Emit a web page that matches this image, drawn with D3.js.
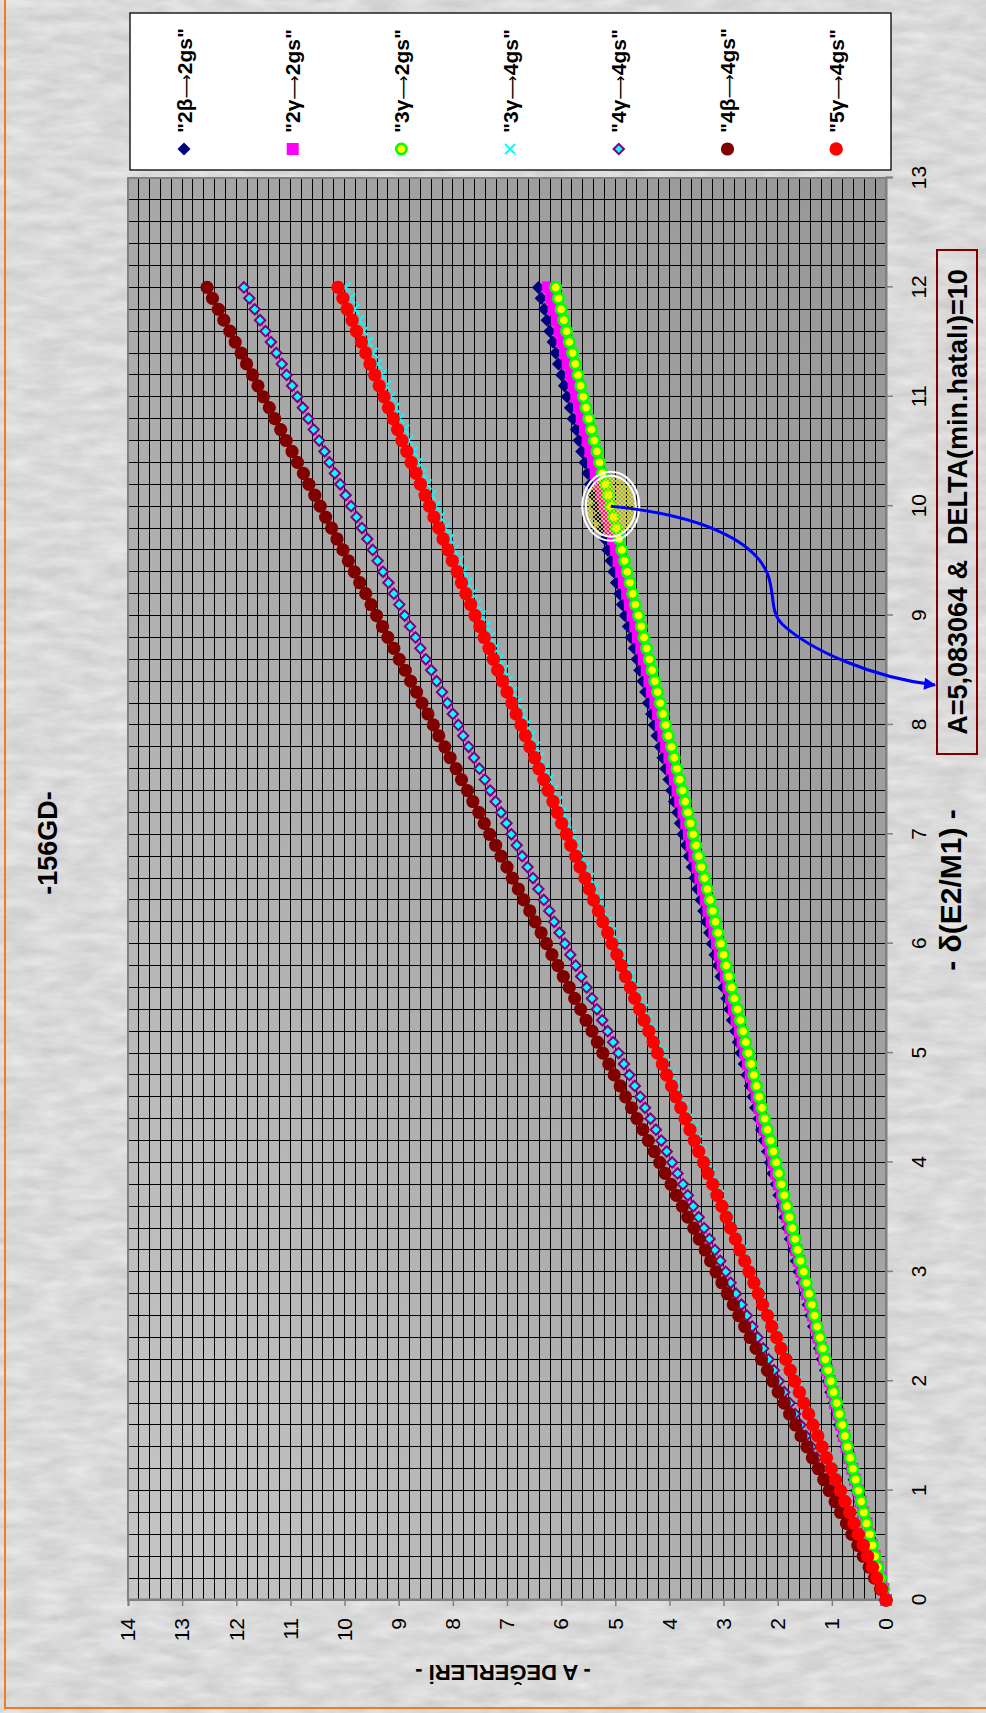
<!DOCTYPE html>
<html>
<head>
<meta charset="utf-8">
<script src="https://cdn.jsdelivr.net/npm/d3@7"></script>
<style>
  body { margin: 0; background: #d9d9d9; }
  svg { display: block; }
  text { font-family: "Liberation Sans", Arial, sans-serif; }
</style>
</head>
<body>
<svg id="chart" width="986" height="1713"></svg>
<script>
// ---- data ----
var delta = [0,0.1,0.2,0.3,0.4,0.5,0.6,0.7,0.8,0.9,1,1.1,1.2,1.3,1.4,1.5,1.6,1.7,1.8,1.9,2,2.1,2.2,2.3,2.4,2.5,2.6,2.7,2.8,2.9,3,3.1,3.2,3.3,3.4,3.5,3.6,3.7,3.8,3.9,4,4.1,4.2,4.3,4.4,4.5,4.6,4.7,4.8,4.9,5,5.1,5.2,5.3,5.4,5.5,5.6,5.7,5.8,5.9,6,6.1,6.2,6.3,6.4,6.5,6.6,6.7,6.8,6.9,7,7.1,7.2,7.3,7.4,7.5,7.6,7.7,7.8,7.9,8,8.1,8.2,8.3,8.4,8.5,8.6,8.7,8.8,8.9,9,9.1,9.2,9.3,9.4,9.5,9.6,9.7,9.8,9.9,10,10.1,10.2,10.3,10.4,10.5,10.6,10.7,10.8,10.9,11,11.1,11.2,11.3,11.4,11.5,11.6,11.7,11.8,11.9,12];

var a2b2 = [0,0.05,0.11,0.16,0.21,0.27,0.32,0.37,0.43,0.48,
  0.54,0.59,0.64,0.70,0.75,0.80,0.86,0.91,0.96,1.02,
  1.07,1.12,1.18,1.23,1.28,1.34,1.39,1.44,1.50,1.55,
  1.61,1.66,1.71,1.77,1.82,1.87,1.93,1.98,2.03,2.09,
  2.14,2.19,2.25,2.30,2.35,2.41,2.46,2.51,2.57,2.62,
  2.68,2.73,2.78,2.84,2.89,2.94,3.00,3.05,3.10,3.16,
  3.21,3.26,3.32,3.37,3.42,3.48,3.53,3.58,3.64,3.69,
  3.75,3.80,3.85,3.91,3.96,4.01,4.07,4.12,4.17,4.23,
  4.28,4.33,4.39,4.44,4.49,4.55,4.60,4.65,4.71,4.76,
  4.82,4.87,4.92,4.98,5.03,5.08,5.14,5.19,5.24,5.30,
  5.35,5.40,5.46,5.51,5.56,5.62,5.67,5.72,5.78,5.83,
  5.89,5.94,5.99,6.05,6.10,6.15,6.21,6.26,6.31,6.37,
  6.42];
var a2g2 = [0,0.05,0.10,0.16,0.21,0.26,0.31,0.36,0.42,0.47,
  0.52,0.57,0.62,0.68,0.73,0.78,0.83,0.88,0.94,0.99,
  1.04,1.09,1.14,1.20,1.25,1.30,1.35,1.40,1.46,1.51,
  1.56,1.61,1.66,1.72,1.77,1.82,1.87,1.92,1.98,2.03,
  2.08,2.13,2.18,2.24,2.29,2.34,2.39,2.44,2.50,2.55,
  2.60,2.65,2.70,2.76,2.81,2.86,2.91,2.96,3.02,3.07,
  3.12,3.17,3.22,3.28,3.33,3.38,3.43,3.48,3.54,3.59,
  3.64,3.69,3.74,3.80,3.85,3.90,3.95,4.00,4.06,4.11,
  4.16,4.21,4.26,4.32,4.37,4.42,4.47,4.52,4.58,4.63,
  4.68,4.73,4.78,4.84,4.89,4.94,4.99,5.04,5.10,5.15,
  5.20,5.25,5.30,5.36,5.41,5.46,5.51,5.56,5.62,5.67,
  5.72,5.77,5.82,5.88,5.93,5.98,6.03,6.08,6.14,6.19,
  6.24];
var a3g2 = [0,0.05,0.10,0.15,0.20,0.25,0.30,0.36,0.41,0.46,
  0.51,0.56,0.61,0.66,0.71,0.76,0.81,0.86,0.91,0.97,
  1.02,1.07,1.12,1.17,1.22,1.27,1.32,1.37,1.42,1.47,
  1.52,1.58,1.63,1.68,1.73,1.78,1.83,1.88,1.93,1.98,
  2.03,2.08,2.13,2.19,2.24,2.29,2.34,2.39,2.44,2.49,
  2.54,2.59,2.64,2.69,2.74,2.80,2.85,2.90,2.95,3.00,
  3.05,3.10,3.15,3.20,3.25,3.30,3.35,3.41,3.46,3.51,
  3.56,3.61,3.66,3.71,3.76,3.81,3.86,3.91,3.96,4.02,
  4.07,4.12,4.17,4.22,4.27,4.32,4.37,4.42,4.47,4.52,
  4.57,4.63,4.68,4.73,4.78,4.83,4.88,4.93,4.98,5.03,
  5.08,5.13,5.18,5.24,5.29,5.34,5.39,5.44,5.49,5.54,
  5.59,5.64,5.69,5.74,5.79,5.85,5.90,5.95,6.00,6.05,
  6.10];
var a3g4 = [0,0.08,0.17,0.25,0.33,0.42,0.50,0.58,0.67,0.75,
  0.83,0.92,1.00,1.08,1.16,1.25,1.33,1.41,1.50,1.58,
  1.66,1.75,1.83,1.91,2.00,2.08,2.16,2.25,2.33,2.41,
  2.50,2.58,2.66,2.75,2.83,2.91,3.00,3.08,3.16,3.24,
  3.33,3.41,3.49,3.58,3.66,3.74,3.83,3.91,3.99,4.08,
  4.16,4.24,4.33,4.41,4.49,4.58,4.66,4.74,4.83,4.91,
  4.99,5.08,5.16,5.24,5.32,5.41,5.49,5.57,5.66,5.74,
  5.82,5.91,5.99,6.07,6.16,6.24,6.32,6.41,6.49,6.57,
  6.66,6.74,6.82,6.91,6.99,7.07,7.16,7.24,7.32,7.40,
  7.49,7.57,7.65,7.74,7.82,7.90,7.99,8.07,8.15,8.24,
  8.32,8.40,8.49,8.57,8.65,8.74,8.82,8.90,8.99,9.07,
  9.15,9.24,9.32,9.40,9.48,9.57,9.65,9.73,9.82,9.90,
  9.98];
var a4g4 = [0,0.10,0.20,0.30,0.40,0.49,0.59,0.69,0.79,0.89,
  0.99,1.09,1.19,1.28,1.38,1.48,1.58,1.68,1.78,1.88,
  1.98,2.07,2.17,2.27,2.37,2.47,2.57,2.67,2.77,2.87,
  2.96,3.06,3.16,3.26,3.36,3.46,3.56,3.66,3.75,3.85,
  3.95,4.05,4.15,4.25,4.35,4.45,4.54,4.64,4.74,4.84,
  4.94,5.04,5.14,5.24,5.34,5.43,5.53,5.63,5.73,5.83,
  5.93,6.03,6.13,6.22,6.32,6.42,6.52,6.62,6.72,6.82,
  6.92,7.01,7.11,7.21,7.31,7.41,7.51,7.61,7.71,7.81,
  7.90,8.00,8.10,8.20,8.30,8.40,8.50,8.60,8.69,8.79,
  8.89,8.99,9.09,9.19,9.29,9.39,9.48,9.58,9.68,9.78,
  9.88,9.98,10.08,10.18,10.28,10.37,10.47,10.57,10.67,10.77,
  10.87,10.97,11.07,11.16,11.26,11.36,11.46,11.56,11.66,11.76,
  11.86];
var a4b4 = [0,0.10,0.21,0.31,0.42,0.52,0.63,0.73,0.84,0.94,
  1.05,1.15,1.25,1.36,1.46,1.57,1.67,1.78,1.88,1.99,
  2.09,2.19,2.30,2.40,2.51,2.61,2.72,2.82,2.93,3.03,
  3.14,3.24,3.34,3.45,3.55,3.66,3.76,3.87,3.97,4.08,
  4.18,4.28,4.39,4.49,4.60,4.70,4.81,4.91,5.02,5.12,
  5.23,5.33,5.43,5.54,5.64,5.75,5.85,5.96,6.06,6.17,
  6.27,6.37,6.48,6.58,6.69,6.79,6.90,7.00,7.11,7.21,
  7.32,7.42,7.52,7.63,7.73,7.84,7.94,8.05,8.15,8.26,
  8.36,8.46,8.57,8.67,8.78,8.88,8.99,9.09,9.20,9.30,
  9.41,9.51,9.61,9.72,9.82,9.93,10.03,10.14,10.24,10.35,
  10.45,10.55,10.66,10.76,10.87,10.97,11.08,11.18,11.29,11.39,
  11.50,11.60,11.70,11.81,11.91,12.02,12.12,12.23,12.33,12.44,
  12.54];
var a5g4 = [0,0.08,0.17,0.25,0.34,0.42,0.51,0.59,0.67,0.76,
  0.84,0.93,1.01,1.10,1.18,1.26,1.35,1.43,1.52,1.60,
  1.69,1.77,1.85,1.94,2.02,2.11,2.19,2.28,2.36,2.44,
  2.53,2.61,2.70,2.78,2.87,2.95,3.03,3.12,3.20,3.29,
  3.37,3.46,3.54,3.62,3.71,3.79,3.88,3.96,4.05,4.13,
  4.22,4.30,4.38,4.47,4.55,4.64,4.72,4.81,4.89,4.97,
  5.06,5.14,5.23,5.31,5.40,5.48,5.56,5.65,5.73,5.82,
  5.90,5.99,6.07,6.15,6.24,6.32,6.41,6.49,6.58,6.66,
  6.74,6.83,6.91,7.00,7.08,7.17,7.25,7.33,7.42,7.50,
  7.59,7.67,7.76,7.84,7.92,8.01,8.09,8.18,8.26,8.35,
  8.43,8.51,8.60,8.68,8.77,8.85,8.94,9.02,9.10,9.19,
  9.27,9.36,9.44,9.53,9.61,9.69,9.78,9.86,9.95,10.03,
  10.12];

var seriesFrom = ['"2β', '"2γ', '"3γ', '"3γ', '"4γ', '"4β', '"5γ'];
var seriesTo = ['2gs"', '2gs"', '2gs"', '4gs"', '4gs"', '4gs"', '4gs"'];
var seriesValues = [a2b2, a2g2, a3g2, a3g4, a4g4, a4b4, a5g4];
var deltaTicks = [0, 1, 2, 3, 4, 5, 6, 7, 8, 9, 10, 11, 12, 13];
var aTicks = [0, 1, 2, 3, 4, 5, 6, 7, 8, 9, 10, 11, 12, 13, 14];
var bestA = 5.083064, bestDelta = 10;

// marker look per series
var styles = [
  { shape: 'diamond', size: 6.5, fill: '#000080', stroke: 'none', sw: 0, line: '#000080' },
  { shape: 'square', size: 6, fill: '#ff00ff', stroke: 'none', sw: 0, line: '#ff00ff' },
  { shape: 'circle', size: 5.2, fill: '#ffff00', stroke: '#00ff00', sw: 2.6, line: '#ffff00' },
  { shape: 'x', size: 5, fill: 'none', stroke: '#00ffff', sw: 2, line: 'none' },
  { shape: 'diamond', size: 5.2, fill: '#00ffff', stroke: '#800080', sw: 2, line: '#ff00ff' },
  { shape: 'circle', size: 6.6, fill: '#800000', stroke: 'none', sw: 0, line: '#800000' },
  { shape: 'circle', size: 6.7, fill: '#ff0000', stroke: 'none', sw: 0, line: '#ff0000' }
];

function markerPath(s) {
  var h = s.size;
  if (s.shape === 'diamond') return 'M0,' + (-h) + 'L' + h + ',0L0,' + h + 'L' + (-h) + ',0Z';
  if (s.shape === 'square') return 'M' + (-h) + ',' + (-h) + 'h' + 2 * h + 'v' + 2 * h + 'h' + (-2 * h) + 'Z';
  if (s.shape === 'x') return 'M' + (-h) + ',' + (-h) + 'L' + h + ',' + h + 'M' + (-h) + ',' + h + 'L' + h + ',' + (-h);
  return d3.symbol(d3.symbolCircle, Math.PI * h * h)();
}

var svg = d3.select('#chart');
var W = 1713; // the chart is drawn on its side: frame width = page height
var defs = svg.append('defs');

var tex = defs.append('filter').attr('id', 'marble').attr('x', 0).attr('y', 0).attr('width', 1).attr('height', 1)
  .attr('color-interpolation-filters', 'sRGB');
tex.append('feTurbulence').attr('type', 'fractalNoise').attr('baseFrequency', '0.03 0.09').attr('numOctaves', 4).attr('seed', 5);
tex.append('feColorMatrix').attr('type', 'matrix')
  .attr('values', '0.14 0 0 0 0.785  0.14 0 0 0 0.785  0.14 0 0 0 0.785  0 0 0 0 1');

var grad = defs.append('linearGradient').attr('id', 'plotbg').attr('x1', 0).attr('y1', 0).attr('x2', 1).attr('y2', 1);
grad.append('stop').attr('offset', 0).attr('stop-color', '#c6c6c6');
grad.append('stop').attr('offset', 0.5).attr('stop-color', '#a8a8a8');
grad.append('stop').attr('offset', 1).attr('stop-color', '#979797');

var hatch = defs.append('pattern').attr('id', 'hatch').attr('width', 4).attr('height', 4).attr('patternUnits', 'userSpaceOnUse');
hatch.append('path').attr('d', 'M0,0L4,4M4,0L0,4').attr('stroke', '#e8e800').attr('stroke-width', 1);

// page background + orange frame
svg.append('rect').attr('width', 986).attr('height', 1713).attr('filter', 'url(#marble)');
svg.append('path').attr('d', 'M5,0V1708H986').attr('fill', 'none').attr('stroke', '#f47a20').attr('stroke-width', 2);

var g = svg.append('g').attr('transform', 'translate(0,' + W + ') rotate(-90)');

var x = d3.scaleLinear().domain([0, 13]).range([113, 1535]);
var y = d3.scaleLinear().domain([0, 14]).range([886, 128]);

g.append('rect')
  .attr('x', x(0)).attr('y', y(14))
  .attr('width', x(13) - x(0)).attr('height', y(0) - y(14))
  .attr('fill', 'url(#plotbg)');

var grid = g.append('g').attr('shape-rendering', 'crispEdges');
grid.selectAll('line.gx').data(x.ticks(65)).enter().append('line')
  .attr('class', 'gx')
  .attr('x1', function (d) { return x(d); }).attr('x2', function (d) { return x(d); })
  .attr('y1', y(0)).attr('y2', y(14))
  .attr('stroke', '#000').attr('stroke-width', 1);
grid.selectAll('line.gy').data(y.ticks(70)).enter().append('line')
  .attr('class', 'gy')
  .attr('y1', function (d) { return y(d); }).attr('y2', function (d) { return y(d); })
  .attr('x1', x(0)).attr('x2', x(13))
  .attr('stroke', '#000').attr('stroke-width', 1);

g.append('rect')
  .attr('x', x(0)).attr('y', y(14))
  .attr('width', x(13) - x(0)).attr('height', y(0) - y(14))
  .attr('fill', 'none').attr('stroke', '#808080').attr('stroke-width', 2);

// axes
var xAxis = g.append('g').attr('transform', 'translate(0,' + y(0) + ')')
  .call(d3.axisBottom(x).tickValues(deltaTicks).tickSize(7).tickPadding(18).tickFormat(d3.format('d')));
var yAxis = g.append('g').attr('transform', 'translate(' + x(0) + ',0)')
  .call(d3.axisLeft(y).tickValues(aTicks).tickSize(6).tickPadding(12).tickFormat(d3.format('d')));
[xAxis, yAxis].forEach(function (ax) {
  ax.select('.domain').attr('stroke', '#808080').attr('stroke-width', 2);
  ax.selectAll('.tick line').attr('stroke', '#808080').attr('stroke-width', 1.5);
  ax.selectAll('.tick text').attr('fill', '#000').style('font-size', '21px')
    .style('font-family', '"Liberation Sans", Arial, sans-serif');
});

// series
var line = d3.line().x(function (d) { return x(d[0]); }).y(function (d) { return y(d[1]); });
seriesValues.forEach(function (vals, i) {
  var st = styles[i];
  var pts = delta.map(function (d, j) { return [d, vals[j]]; });
  var sg = g.append('g').attr('class', 'series');
  sg.append('path').datum(pts).attr('d', line)
    .attr('fill', 'none').attr('stroke', st.line).attr('stroke-width', 1);
  sg.selectAll('path.m').data(pts).enter().append('path')
    .attr('class', 'm')
    .attr('transform', function (d) { return 'translate(' + x(d[0]) + ',' + y(d[1]) + ')'; })
    .attr('d', markerPath(st))
    .attr('fill', st.fill).attr('stroke', st.stroke).attr('stroke-width', st.sw);
});

// highlighted solution and arrow to the note
var cx = x(bestDelta), cy = y(bestA);
g.append('ellipse').attr('cx', cx).attr('cy', cy).attr('rx', 31).attr('ry', 25.5)
  .attr('fill', 'url(#hatch)').attr('fill-opacity', 0.85);
g.append('ellipse').attr('cx', cx).attr('cy', cy).attr('rx', 34.5).attr('ry', 28.5)
  .attr('fill', 'none').attr('stroke', '#fff').attr('stroke-width', 2);
g.append('ellipse').attr('cx', cx).attr('cy', cy).attr('rx', 30.5).attr('ry', 25)
  .attr('fill', 'none').attr('stroke', '#fff').attr('stroke-width', 2);

defs.append('marker').attr('id', 'head').attr('viewBox', '0 0 10 10').attr('refX', 9).attr('refY', 5)
  .attr('markerWidth', 5).attr('markerHeight', 4).attr('orient', 'auto')
  .append('path').attr('d', 'M0,0L10,5L0,10Z').attr('fill', '#0000ff');

// arrow drawn in frame coords (u along delta, v down the A axis)
g.append('path')
  .attr('d', 'M' + cx + ',' + cy + ' C1198,700 1173,755 1138,768 C1118,775 1101,770 1089,782 C1063,810 1036,870 1028,935')
  .attr('fill', 'none').attr('stroke', '#0000ff').attr('stroke-width', 3)
  .attr('marker-end', 'url(#head)');

// texts
g.append('text').attr('x', 870).attr('y', 57).attr('text-anchor', 'middle')
  .style('font-size', '27px').style('font-weight', 'bold').text('-156GD-');
g.append('text').attr('transform', 'translate(40,' + 503 + ') rotate(-90)').attr('text-anchor', 'middle')
  .attr('dy', '0.35em').style('font-size', '22px').style('font-weight', 'bold').text('- A DEĞERLERİ -');
g.append('text').attr('x', 823).attr('y', 961).attr('text-anchor', 'middle')
  .style('font-size', '30px').style('font-weight', 'bold').text('- δ(E2/M1) -');

g.append('rect').attr('x', 959).attr('y', 937).attr('width', 504).attr('height', 40)
  .attr('fill', 'none').attr('stroke', '#800000').attr('stroke-width', 2);
g.append('text').attr('x', 1211).attr('y', 967).attr('text-anchor', 'middle').style('white-space', 'pre')
  .style('font-size', '27px').style('font-weight', 'bold').text('A=5,083064 &  DELTA(min.hatalı)=10');

// legend
var lg = g.append('g').attr('class', 'legend');
lg.append('rect').attr('x', 1543).attr('y', 130).attr('width', 157).attr('height', 761)
  .attr('fill', '#fff').attr('stroke', '#000').attr('stroke-width', 1.3);
var items = lg.selectAll('g.item').data(seriesFrom).enter().append('g')
  .attr('class', 'item')
  .attr('transform', function (d, i) { return 'translate(0,' + (184 + i * 108.7) + ')'; });
items.append('path')
  .attr('transform', 'translate(1564,0)')
  .attr('d', function (d, i) { return markerPath(styles[i]); })
  .attr('fill', function (d, i) { return styles[i].fill; })
  .attr('stroke', function (d, i) { return styles[i].stroke; })
  .attr('stroke-width', function (d, i) { return styles[i].sw; });
var lt = items.append('text').attr('x', 1580).attr('y', 7.5)
  .style('font-size', '21px').style('font-weight', 'bold');
lt.append('tspan').text(function (d) { return d; });
lt.append('tspan').style('font-weight', 'normal').style('font-family', '"DejaVu Sans", sans-serif')
  .style('font-size', '17px').text('⟶');
lt.append('tspan').text(function (d, i) { return seriesTo[i]; });
</script>
</body>
</html>
